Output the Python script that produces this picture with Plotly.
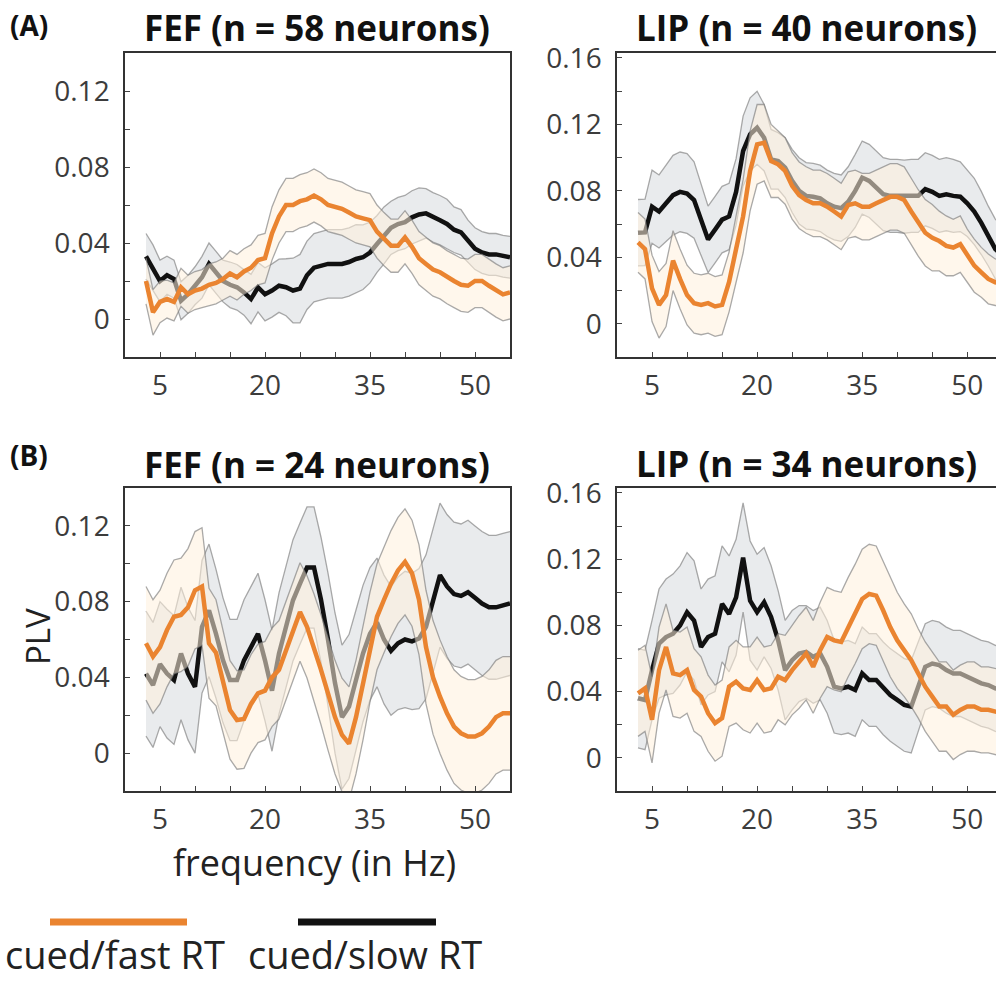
import plotly.graph_objects as go

freq = list(range(3, 56))

# ---- Panel A, FEF ----
a_fef_fast = [0.020, 0.0035, 0.009, 0.0105, 0.009, 0.0167, 0.013, 0.015, 0.016, 0.018, 0.019, 0.021, 0.024, 0.022,
              0.025, 0.027, 0.031, 0.032, 0.045, 0.054, 0.060, 0.060, 0.062, 0.063, 0.065, 0.063, 0.060, 0.059, 0.058,
              0.056, 0.054, 0.053, 0.052, 0.046, 0.042, 0.0386, 0.0386, 0.043, 0.038, 0.032, 0.029, 0.026, 0.0246,
              0.022, 0.020, 0.018, 0.0175, 0.020, 0.020, 0.0175, 0.015, 0.013, 0.014]
a_fef_fast_sem = [0.012, 0.012, 0.011, 0.010, 0.010, 0.010, 0.010, 0.010, 0.010, 0.011, 0.011, 0.011, 0.012, 0.012,
                  0.012, 0.012, 0.013, 0.013, 0.014, 0.014, 0.014, 0.014, 0.014, 0.014, 0.014, 0.014, 0.014, 0.014,
                  0.014, 0.014, 0.014, 0.014, 0.014, 0.014, 0.014, 0.014, 0.014, 0.014, 0.014, 0.014, 0.014, 0.014,
                  0.014, 0.014, 0.014, 0.014, 0.014, 0.014, 0.014, 0.014, 0.014, 0.014, 0.014]
a_fef_slow = [0.033, 0.027, 0.020, 0.023, 0.021, 0.0096, 0.013, 0.0175, 0.022, 0.029, 0.0246, 0.020, 0.018, 0.0167,
              0.014, 0.0105, 0.0167, 0.013, 0.015, 0.0175, 0.0167, 0.015, 0.016, 0.023, 0.027, 0.028, 0.029, 0.029,
              0.029, 0.030, 0.0316, 0.0325, 0.035, 0.0395, 0.044, 0.048, 0.050, 0.051, 0.0535, 0.055, 0.0556, 0.0535,
              0.052, 0.050, 0.047, 0.0456, 0.041, 0.037, 0.035, 0.034, 0.034, 0.033, 0.0325]
a_fef_slow_sem = [0.012, 0.012, 0.011, 0.010, 0.010, 0.010, 0.010, 0.010, 0.011, 0.011, 0.011, 0.011, 0.012, 0.012,
                  0.012, 0.013, 0.013, 0.014, 0.014, 0.014, 0.015, 0.017, 0.018, 0.018, 0.018, 0.018, 0.018, 0.018,
                  0.018, 0.018, 0.018, 0.017, 0.016, 0.015, 0.015, 0.014, 0.014, 0.014, 0.014, 0.014, 0.013, 0.013,
                  0.013, 0.013, 0.012, 0.012, 0.011, 0.011, 0.011, 0.011, 0.011, 0.011, 0.011]

# ---- Panel A, LIP ----
a_lip_fast = [0.049, 0.045, 0.0213, 0.0114, 0.0173, 0.038, 0.027, 0.0173, 0.0124, 0.0114, 0.0124, 0.0104, 0.0114,
              0.0252, 0.045, 0.0646, 0.092, 0.108, 0.109, 0.098, 0.096, 0.092, 0.083, 0.0774, 0.0745, 0.0725, 0.0725,
              0.0705, 0.0676, 0.0646, 0.0715, 0.0725, 0.0705, 0.0705, 0.0725, 0.0745, 0.0764, 0.0764, 0.0745, 0.0676,
              0.0607, 0.0548, 0.0518, 0.0498, 0.0469, 0.0459, 0.0479, 0.041, 0.035, 0.031, 0.027, 0.025, 0.024]
a_lip_fast_sem = [0.018, 0.018, 0.020, 0.020, 0.019, 0.018, 0.018, 0.018, 0.018, 0.018, 0.018, 0.018, 0.018, 0.018,
                  0.020, 0.022, 0.024, 0.024, 0.023, 0.022, 0.020, 0.020, 0.020, 0.020, 0.020, 0.020, 0.020, 0.020,
                  0.020, 0.020, 0.020, 0.020, 0.020, 0.020, 0.020, 0.020, 0.020, 0.020, 0.020, 0.020, 0.020, 0.020,
                  0.020, 0.018, 0.018, 0.017, 0.017, 0.016, 0.016, 0.015, 0.015, 0.014, 0.014]
a_lip_slow = [0.0548, 0.055, 0.0705, 0.0676, 0.0725, 0.0774, 0.0794, 0.0784, 0.0745, 0.0627, 0.0508, 0.0567, 0.0627,
              0.0646, 0.0794, 0.104, 0.114, 0.118, 0.112, 0.099, 0.098, 0.094, 0.086, 0.080, 0.077, 0.0765, 0.0755,
              0.0725, 0.0705, 0.0696, 0.0735, 0.080, 0.088, 0.086, 0.082, 0.078, 0.077, 0.077, 0.0765, 0.077, 0.077,
              0.081, 0.0794, 0.077, 0.078, 0.077, 0.0765, 0.0725, 0.0676, 0.0607, 0.0528, 0.045, 0.041]
a_lip_slow_sem = [0.020, 0.020, 0.022, 0.022, 0.023, 0.024, 0.024, 0.024, 0.023, 0.021, 0.020, 0.020, 0.020, 0.020,
                  0.020, 0.021, 0.022, 0.022, 0.020, 0.018, 0.017, 0.018, 0.019, 0.020, 0.020, 0.020, 0.020, 0.020,
                  0.020, 0.020, 0.021, 0.022, 0.022, 0.022, 0.022, 0.022, 0.022, 0.022, 0.022, 0.022, 0.022, 0.022,
                  0.022, 0.022, 0.022, 0.022, 0.021, 0.020, 0.020, 0.019, 0.018, 0.018, 0.018]

# ---- Panel B, FEF ----
b_fef_fast = [0.058, 0.051, 0.056, 0.065, 0.072, 0.073, 0.077, 0.086, 0.088, 0.058, 0.053, 0.0386, 0.0228, 0.0175,
              0.018, 0.026, 0.0316, 0.033, 0.040, 0.044, 0.054, 0.065, 0.0745, 0.0667, 0.056, 0.044, 0.0316, 0.019,
              0.0096, 0.005, 0.019, 0.037, 0.056, 0.072, 0.081, 0.0895, 0.0965, 0.101, 0.095, 0.081, 0.056, 0.040,
              0.0298, 0.021, 0.014, 0.0105, 0.0088, 0.0088, 0.0105, 0.014, 0.019, 0.021, 0.021]
b_fef_fast_sem = [0.030, 0.030, 0.030, 0.030, 0.030, 0.030, 0.031, 0.031, 0.031, 0.029, 0.028, 0.027, 0.026, 0.026,
                  0.026, 0.026, 0.026, 0.026, 0.026, 0.026, 0.026, 0.026, 0.026, 0.027, 0.028, 0.029, 0.030, 0.030,
                  0.030, 0.030, 0.030, 0.030, 0.029, 0.028, 0.028, 0.028, 0.028, 0.028, 0.028, 0.029, 0.030, 0.030,
                  0.030, 0.030, 0.030, 0.030, 0.030, 0.030, 0.030, 0.030, 0.030, 0.030, 0.030]
b_fef_slow = [0.042, 0.036, 0.047, 0.042, 0.0386, 0.0526, 0.042, 0.035, 0.0667, 0.0754, 0.063, 0.049, 0.0386, 0.0386,
              0.049, 0.056, 0.063, 0.049, 0.033, 0.0526, 0.0667, 0.0807, 0.0895, 0.098, 0.098, 0.081, 0.060, 0.037,
              0.019, 0.0246, 0.0386, 0.0526, 0.063, 0.069, 0.060, 0.054, 0.058, 0.060, 0.059, 0.0605, 0.0667, 0.081,
              0.094, 0.088, 0.084, 0.083, 0.085, 0.082, 0.079, 0.077, 0.077, 0.078, 0.079]
b_fef_slow_sem = [0.033, 0.033, 0.033, 0.034, 0.034, 0.035, 0.035, 0.035, 0.035, 0.035, 0.034, 0.033, 0.032, 0.032,
                  0.032, 0.032, 0.032, 0.032, 0.032, 0.032, 0.032, 0.032, 0.032, 0.032, 0.032, 0.033, 0.035, 0.037,
                  0.038, 0.038, 0.037, 0.036, 0.035, 0.034, 0.034, 0.034, 0.035, 0.036, 0.036, 0.037, 0.038, 0.038,
                  0.038, 0.038, 0.038, 0.038, 0.038, 0.038, 0.038, 0.038, 0.038, 0.038, 0.038]

# ---- Panel B, LIP ----
b_lip_fast = [0.039, 0.042, 0.023, 0.053, 0.067, 0.051, 0.050, 0.053, 0.041, 0.037, 0.027, 0.021, 0.024, 0.043,
              0.046, 0.042, 0.041, 0.047, 0.041, 0.042, 0.049, 0.047, 0.053, 0.058, 0.063, 0.055, 0.065, 0.073, 0.071,
              0.070, 0.079, 0.087, 0.096, 0.099, 0.098, 0.089, 0.079, 0.071, 0.065, 0.059, 0.051, 0.043, 0.037, 0.031,
              0.031, 0.026, 0.029, 0.031, 0.031, 0.029, 0.029, 0.028, 0.027]
b_lip_fast_sem = [0.026, 0.026, 0.026, 0.026, 0.026, 0.026, 0.026, 0.026, 0.025, 0.024, 0.023, 0.023, 0.023, 0.024,
                  0.025, 0.025, 0.026, 0.026, 0.026, 0.026, 0.026, 0.027, 0.027, 0.028, 0.028, 0.028, 0.029, 0.030,
                  0.030, 0.030, 0.030, 0.030, 0.030, 0.030, 0.030, 0.030, 0.030, 0.029, 0.028, 0.028, 0.027, 0.027,
                  0.027, 0.027, 0.027, 0.027, 0.027, 0.027, 0.027, 0.026, 0.026, 0.026, 0.026]
b_lip_slow = [0.036, 0.035, 0.053, 0.069, 0.073, 0.075, 0.080, 0.088, 0.083, 0.067, 0.073, 0.075, 0.093, 0.087,
              0.097, 0.121, 0.095, 0.088, 0.094, 0.085, 0.071, 0.053, 0.059, 0.063, 0.064, 0.061, 0.063, 0.055, 0.043,
              0.042, 0.043, 0.041, 0.051, 0.047, 0.047, 0.042, 0.038, 0.035, 0.032, 0.031, 0.043, 0.055, 0.057, 0.056,
              0.053, 0.051, 0.051, 0.049, 0.047, 0.045, 0.044, 0.042, 0.041]
b_lip_slow_sem = [0.030, 0.030, 0.030, 0.033, 0.035, 0.036, 0.036, 0.036, 0.036, 0.035, 0.035, 0.035, 0.035, 0.035,
                  0.035, 0.033, 0.036, 0.035, 0.033, 0.031, 0.030, 0.030, 0.030, 0.029, 0.028, 0.028, 0.028, 0.028,
                  0.028, 0.028, 0.028, 0.028, 0.028, 0.028, 0.028, 0.028, 0.028, 0.028, 0.028, 0.028, 0.027, 0.026,
                  0.026, 0.026, 0.026, 0.026, 0.026, 0.026, 0.026, 0.026, 0.026, 0.026, 0.026]

titles = ["FEF (n = 58 neurons)", "LIP (n = 40 neurons)", "FEF (n = 24 neurons)", "LIP (n = 34 neurons)"]
panel_labels = ["(A)", "(B)"]
legend_names = ["cued/fast RT", "cued/slow RT"]

ORANGE = "#EA8430"
BLACK = "#111111"
FONT = "Open Sans"

panels = [
    (a_fef_fast, a_fef_fast_sem, a_fef_slow, a_fef_slow_sem),
    (a_lip_fast, a_lip_fast_sem, a_lip_slow, a_lip_slow_sem),
    (b_fef_fast, b_fef_fast_sem, b_fef_slow, b_fef_slow_sem),
    (b_lip_fast, b_lip_fast_sem, b_lip_slow, b_lip_slow_sem),
]

fig = go.Figure()


def band(fx, mean, sem, fill, xa, ya):
    lo = [m - s for m, s in zip(mean, sem)]
    hi = [m + s for m, s in zip(mean, sem)]
    edge = dict(color="rgba(125,125,125,0.65)", width=1.3)
    fig.add_trace(go.Scatter(x=fx, y=lo, mode="lines", line=edge,
                             xaxis=xa, yaxis=ya, showlegend=False, hoverinfo="skip"))
    fig.add_trace(go.Scatter(x=fx, y=hi, mode="lines", line=edge,
                             fill="tonexty", fillcolor=fill, xaxis=xa, yaxis=ya, showlegend=False,
                             hoverinfo="skip"))


for i, (fast, fast_sem, slow, slow_sem) in enumerate(panels):
    xa = "x" if i == 0 else f"x{i+1}"
    ya = "y" if i == 0 else f"y{i+1}"
    band(freq, slow, slow_sem, "rgba(195,200,206,0.36)", xa, ya)
    fig.add_trace(go.Scatter(x=freq, y=slow, mode="lines", line=dict(color=BLACK, width=4.5),
                             xaxis=xa, yaxis=ya, showlegend=False))
    band(freq, fast, fast_sem, "rgba(255,240,220,0.55)", xa, ya)
    fig.add_trace(go.Scatter(x=freq, y=fast, mode="lines", line=dict(color=ORANGE, width=4.5),
                             xaxis=xa, yaxis=ya, showlegend=False))

W, H = 996, 983


def px(x):
    return x / W


def py(y):
    return 1 - y / H


left_dom = [px(125), px(510)]
right_dom = [px(617), 1.0]
top_dom = [py(357), py(53)]
bot_dom = [py(791), py(488)]

tickfont = dict(family=FONT, size=28, color="#3c3c3c")


def xaxis(domain, anchor, rng):
    return dict(domain=domain, anchor=anchor, range=rng, tick0=5, dtick=15, ticks="inside", ticklen=5,
                tickwidth=1.2, tickcolor="#444", minor=dict(tick0=0, dtick=5, ticks="inside", ticklen=5,
                                                            tickwidth=1.2, tickcolor="#444"),
                showline=True, linecolor="#333", linewidth=1.5, mirror=True, showgrid=False, zeroline=False,
                tickfont=tickfont, ticklabelstandoff=3, automargin=False)


def yaxis(domain, anchor, rng, mirror):
    return dict(domain=domain, anchor=anchor, range=rng, tick0=0, dtick=0.04, ticks="inside", ticklen=5,
                tickwidth=1.2, tickcolor="#444", minor=dict(tick0=0, dtick=0.02, ticks="inside", ticklen=5,
                                                            tickwidth=1.2, tickcolor="#444"),
                showline=True, linecolor="#333", linewidth=1.5, mirror=mirror, showgrid=False, zeroline=False,
                tickfont=tickfont, ticklabelstandoff=8, automargin=False)


fig.update_layout(
    width=W, height=H, margin=dict(l=0, r=0, t=0, b=0, pad=0),
    paper_bgcolor="white", plot_bgcolor="white", showlegend=False,
    xaxis=xaxis(left_dom, "y", [0, 55]),
    yaxis=yaxis(top_dom, "x", [-0.02, 0.14], True),
    xaxis2=xaxis(right_dom, "y2", [0, 54.1]),
    yaxis2=yaxis(top_dom, "x2", [-0.02, 0.163], False),
    xaxis3=xaxis(left_dom, "y3", [0, 55]),
    yaxis3=yaxis(bot_dom, "x3", [-0.02, 0.14], True),
    xaxis4=xaxis(right_dom, "y4", [0, 54.1]),
    yaxis4=yaxis(bot_dom, "x4", [-0.02, 0.163], False),
)

ann = []
title_pos = [(317, 28), (806, 28), (317, 465), (806, 463)]
for t, (x, y) in zip(titles, title_pos):
    ann.append(dict(text=f"<b>{t}</b>", x=px(x), y=py(y), xref="paper", yref="paper", showarrow=False,
                    xanchor="center", yanchor="middle", font=dict(family=FONT, size=35, color="#111")))
for t, (x, y) in zip(panel_labels, [(8, 25), (8, 455)]):
    ann.append(dict(text=f"<b>{t}</b>", x=px(x), y=py(y), xref="paper", yref="paper", showarrow=False,
                    xanchor="left", yanchor="middle", font=dict(family=FONT, size=28, color="#111")))
ann.append(dict(text="frequency (in Hz)", x=px(314), y=py(862), xref="paper", yref="paper", showarrow=False,
                xanchor="center", yanchor="middle", font=dict(family=FONT, size=36, color="#222")))
ann.append(dict(text="PLV", x=px(37), y=py(637), xref="paper", yref="paper", showarrow=False, textangle=-90,
                xanchor="center", yanchor="middle", font=dict(family=FONT, size=33, color="#222")))
for t, x in zip(legend_names, [115, 365]):
    ann.append(dict(text=t, x=px(x), y=py(982), xref="paper", yref="paper", showarrow=False,
                    xanchor="center", yanchor="bottom", font=dict(family=FONT, size=38, color="#222")))
fig.update_layout(annotations=ann)

shapes = [
    dict(type="line", xref="paper", yref="paper", x0=px(50), x1=px(187), y0=py(922), y1=py(922),
         line=dict(color=ORANGE, width=7)),
    dict(type="line", xref="paper", yref="paper", x0=px(298), x1=px(436), y0=py(922), y1=py(922),
         line=dict(color=BLACK, width=7)),
]
fig.update_layout(shapes=shapes)

fig.write_html("out.html", config={"displayModeBar": False},
               post_script="document.body.style.margin='0px';document.body.style.overflow='hidden';")
